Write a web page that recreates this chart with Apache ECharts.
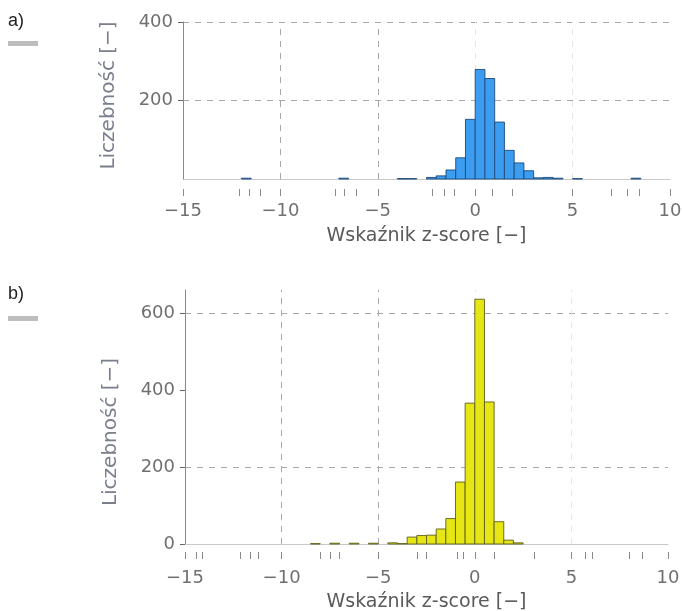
<!DOCTYPE html>
<html>
<head>
<meta charset="utf-8">
<script src="https://cdn.jsdelivr.net/npm/echarts@6/dist/echarts.min.js"></script>
<style>
  html, body { margin: 0; padding: 0; background: #fff; }
  #chart { width: 682px; height: 611px; }
</style>
</head>
<body>
<div id="chart"></div>
<script>
// bin lower edges (bin width 0.5) and counts
var binWidth = 0.5;
var edgesA = [-12, -7, -4, -3.5, -2.5, -2, -1.5, -1, -0.5, 0, 0.5, 1, 1.5, 2, 2.5, 3, 3.5, 4, 5, 8];
var countsA = [2, 2, 1, 1, 4, 8, 23, 54, 152, 279, 256, 145, 73, 41, 21, 3, 4, 2, 1, 2];

var edgesB = [-8.5, -7.5, -6.5, -5.5, -4.5, -4, -3.5, -3, -2.5, -2, -1.5, -1, -0.5, 0, 0.5, 1, 1.5, 2];
var countsB = [1, 2, 2, 2, 3, 1, 18, 22, 23, 39, 66, 161, 366, 636, 369, 58, 10, 3];

// axis ticks / labels
var xLabels = [-15, -10, -5, 0, 5, 10];
var xTicksA = [-15, -12.1, -11.6, -11.05, -10, -7.2, -6.7, -6.1, -5, -2.2, -1.6, -1.05, 0, 0.9, 1.9, 5, 7.0, 7.8, 8.4, 10];
var xTicksB = [-15, -14.4, -14.1, -12.15, -11.6, -11.2, -10, -8.0, -7.5, -7.0, -5, -3.0, -2.5, -0.9, -0.6, 0, 1.0, 3.1, 5, 5.7, 6.1, 8.0, 8.65, 10];
var yLabelsA = [200, 400];
var yLabelsB = [0, 200, 400, 600];
var hGridA = [200, 400];
var hGridB = [200, 600];
var vGrid = [-10, -5];
var vGridFaint = [0, 5];

var xTitle = 'Wskaźnik z-score [−]';
var yTitle = 'Liczebność [−]';

var font = 'DejaVu Sans';
var grey = '#707070';

function toBins(edges, counts) {
  var out = [];
  for (var i = 0; i < edges.length; i++) {
    out.push([edges[i], edges[i] + binWidth, counts[i]]);
  }
  return out;
}

function minusFmt(v) {
  return String(v).replace('-', '−');
}

function histSeries(idx, data, fill, stroke, hGrid) {
  var lines = [];
  hGrid.forEach(function (v) { lines.push({ yAxis: v }); });
  vGrid.forEach(function (v) { lines.push({ xAxis: v }); });
  vGridFaint.forEach(function (v) {
    lines.push({ xAxis: v, lineStyle: { color: '#e6e6e6' } });
  });
  return {
    type: 'custom',
    xAxisIndex: idx * 2,
    yAxisIndex: idx,
    data: data,
    renderItem: function (params, api) {
      var p0 = api.coord([api.value(0), api.value(2)]);
      var p1 = api.coord([api.value(1), 0]);
      return {
        type: 'rect',
        shape: { x: p0[0], y: p0[1], width: p1[0] - p0[0], height: p1[1] - p0[1] },
        style: { fill: fill, stroke: stroke, lineWidth: 0.9 }
      };
    },
    markLine: {
      silent: true,
      symbol: 'none',
      label: { show: false },
      lineStyle: { color: '#a8a8a8', type: [6, 6], width: 1 },
      data: lines,
      z: 0
    },
    z: 2
  };
}

function baseAxis(idx) {
  return {
    type: 'value', gridIndex: idx, position: 'bottom', min: -15, max: 10,
    axisLine: { show: true, onZero: false, lineStyle: { color: '#c8c8c8' } },
    axisTick: { show: false }, axisLabel: { show: false }, splitLine: { show: false }
  };
}

function tickAxis(idx, ticks, offset, margin, gap) {
  return {
    type: 'value', gridIndex: idx, position: 'bottom', min: -15, max: 10, offset: offset,
    axisLine: { show: false, onZero: false },
    axisTick: { show: true, length: 7, customValues: ticks, lineStyle: { color: '#8a8a8a' } },
    axisLabel: {
      customValues: xLabels, margin: margin, color: grey, fontSize: 18,
      fontFamily: font, formatter: minusFmt
    },
    splitLine: { show: false },
    name: xTitle, nameLocation: 'middle', nameGap: gap,
    nameTextStyle: { color: '#5a5a5a', fontSize: 19, fontFamily: font }
  };
}

function yAx(idx, max, labels, pad) {
  return {
    type: 'value', gridIndex: idx, position: 'left', min: 0, max: max,
    axisLine: { show: true, onZero: false, lineStyle: { color: '#8a8a8a' } },
    axisTick: { show: true, length: 5, customValues: labels, lineStyle: { color: '#666' } },
    axisLabel: { customValues: labels, margin: 10, color: grey, fontSize: 18, fontFamily: font },
    splitLine: { show: false },
    name: yTitle, nameLocation: 'middle', nameGap: 64, nameRotate: 90,
    nameTextStyle: { color: '#7a7f8c', fontSize: 20, fontFamily: font, padding: pad }
  };
}

var myChart = echarts.init(document.getElementById('chart'));
var option = {
  animation: false,
  backgroundColor: '#fff',
  grid: [
    { left: 183, right: 12, top: 22, height: 157, outerBoundsMode: 'none' },
    { left: 185, right: 14, top: 290, height: 254, outerBoundsMode: 'none' }
  ],
  xAxis: [
    baseAxis(0),
    tickAxis(0, xTicksA, 10, 13, 38),
    baseAxis(1),
    tickAxis(1, xTicksB, 8, 17, 41)
  ],
  yAxis: [
    yAx(0, 400, yLabelsA, [0, 0, 0, 10]),
    yAx(1, 660, yLabelsB, [0, 30, 0, 0])
  ],
  graphic: [
    { type: 'text', left: 8, top: 12, style: { text: 'a)', fontSize: 18, fontFamily: 'Liberation Sans', fill: '#222' } },
    { type: 'rect', shape: { x: 8, y: 41, width: 30, height: 5 }, style: { fill: '#bdbdbd' } },
    { type: 'text', left: 8, top: 285, style: { text: 'b)', fontSize: 18, fontFamily: 'Liberation Sans', fill: '#222' } },
    { type: 'rect', shape: { x: 8, y: 316, width: 30, height: 5 }, style: { fill: '#bdbdbd' } }
  ],
  series: [
    histSeries(0, toBins(edgesA, countsA), '#3b9cf0', '#1d4a7a', hGridA),
    histSeries(1, toBins(edgesB, countsB), '#e6e614', '#5e5e1c', hGridB)
  ]
};
option && myChart.setOption(option);
</script>
</body>
</html>
